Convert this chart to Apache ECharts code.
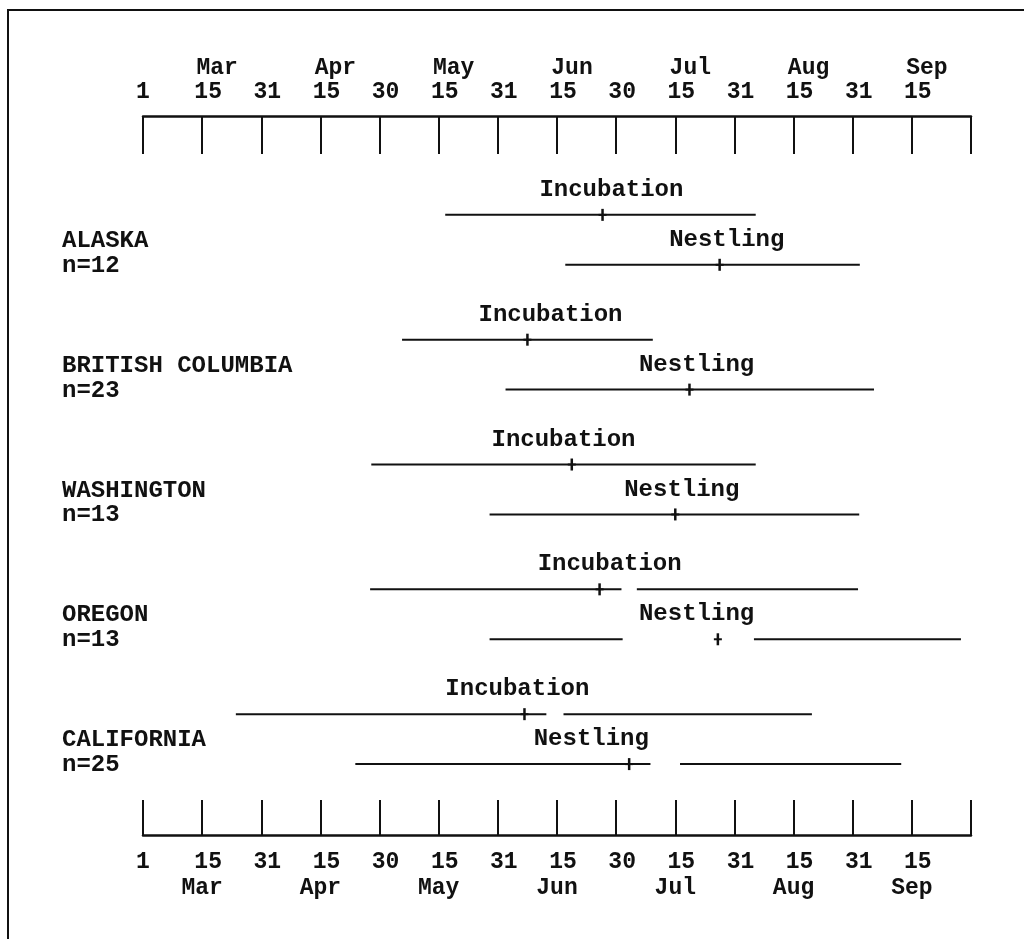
<!DOCTYPE html>
<html>
<head>
<meta charset="utf-8">
<script src="https://cdn.jsdelivr.net/npm/echarts@6/dist/echarts.min.js"></script>
<style>
html,body{margin:0;padding:0;background:#fff;}
#chart{width:1024px;height:939px;}
</style>
</head>
<body>
<div id="chart"></div>
<script>
// x values are in half-month steps counted from 1 Mar (0 = Mar 1, 1 = Mar 15, 2 = Mar 31, ...)
const tickNumbers = ['1','15','31','15','30','15','31','15','30','15','31','15','31','15',''];
const tickMonths  = ['','Mar','','Apr','','May','','Jun','','Jul','','Aug','','Sep',''];

const regions     = ['ALASKA','BRITISH COLUMBIA','WASHINGTON','OREGON','CALIFORNIA'];
const sampleSizes = [12, 23, 13, 13, 25];

// Incubation: range segments and mean date
const incubationSegments = [
  [[5.11, 10.36]],
  [[4.38, 8.62]],
  [[3.86, 10.36]],
  [[3.84, 8.09], [8.35, 12.09]],
  [[1.57, 6.82], [7.11, 11.31]]
];
const incubationMean = [7.77, 6.50, 7.25, 7.72, 6.45];

// Nestling: range segments and mean date
const nestlingSegments = [
  [[7.14, 12.12]],
  [[6.13, 12.36]],
  [[5.86, 12.11]],
  [[5.86, 8.11], [10.33, 13.83]],
  [[3.59, 8.58], [9.08, 12.82]]
];
const nestlingMean = [9.75, 9.24, 9.00, 9.72, 8.22];

// where each phase caption sits along the date axis
const incubationCaptionAt = [7.92, 6.89, 7.11, 7.89, 6.33];
const nestlingCaptionAt   = [9.87, 9.36, 9.11, 9.36, 7.58];

const FONT = '"Liberation Mono", "DejaVu Sans Mono", monospace';
const chart = echarts.init(document.getElementById('chart'), null, {renderer: 'canvas'});

function rowOf(regionIdx, phase) { return regionIdx * 2.5 + (phase === 'nest' ? 1 : 0); }

function makeRender(phase) {
  const segs = phase === 'nest' ? nestlingSegments : incubationSegments;
  const capAt = phase === 'nest' ? nestlingCaptionAt : incubationCaptionAt;
  const caption = phase === 'nest' ? 'Nestling' : 'Incubation';
  return function (params, api) {
    const i = params.dataIndex;
    const mean = api.value(0);
    const row = api.value(1);
    const children = [];
    segs[i].forEach(function (s) {
      const p1 = api.coord([s[0], row]);
      const p2 = api.coord([s[1], row]);
      children.push({type: 'line', shape: {x1: p1[0], y1: p1[1], x2: p2[0], y2: p2[1]},
        style: {stroke: '#111', lineWidth: 2}});
    });
    const m = api.coord([mean, row]);
    children.push({type: 'line', shape: {x1: m[0], y1: m[1] - 6, x2: m[0], y2: m[1] + 6},
      style: {stroke: '#111', lineWidth: 2.5}});
    children.push({type: 'line', shape: {x1: m[0] - 4, y1: m[1], x2: m[0] + 4, y2: m[1]},
      style: {stroke: '#111', lineWidth: 2}});
    const c = api.coord([capAt[i], row - 0.5]);
    children.push({type: 'text', style: {text: caption, x: c[0], y: c[1],
      align: 'center', verticalAlign: 'middle', fontFamily: FONT, fontSize: 24,
      fontWeight: 'bold', fill: '#111'}});
    if (phase === 'nest') {
      const a = api.coord([0, row - 0.5]);
      const b = api.coord([0, row]);
      children.push({type: 'text', style: {text: regions[i], x: a[0] - 81, y: a[1] + 1,
        align: 'left', verticalAlign: 'middle', fontFamily: FONT, fontSize: 24,
        fontWeight: 'bold', fill: '#111'}});
      children.push({type: 'text', style: {text: 'n=' + sampleSizes[i], x: b[0] - 81, y: b[1] + 1,
        align: 'left', verticalAlign: 'middle', fontFamily: FONT, fontSize: 24,
        fontWeight: 'bold', fill: '#111'}});
    }
    return {type: 'group', children: children};
  };
}

function labelIdx(v) { return Math.round(v); }

const richBase = {
  m:  {fontFamily: FONT, fontSize: 23, fontWeight: 'bold', color: '#111'},
  mt: {fontFamily: FONT, fontSize: 23, fontWeight: 'bold', color: '#111', padding: [0, 0, 0, 30]},
  n1: {fontFamily: FONT, fontSize: 23, fontWeight: 'bold', color: '#111'},
  n2: {fontFamily: FONT, fontSize: 23, fontWeight: 'bold', color: '#111', padding: [0, 0, 0, 12]}
};

const option = {
  backgroundColor: '#fff',
  animation: false,
  graphic: [{
    type: 'polyline',
    shape: {points: [[1024, 10], [8, 10], [8, 939]]},
    style: {stroke: '#111', lineWidth: 2, fill: null}
  }],
  grid: {left: 143, right: 53, top: 116, bottom: 104, containLabel: false},
  xAxis: [{
    type: 'value', position: 'top', min: 0, max: 14, interval: 1,
    axisLine: {show: true, onZero: false, lineStyle: {color: '#111', width: 2.5}},
    axisTick: {show: true, inside: true, length: 38, lineStyle: {color: '#111', width: 2}},
    splitLine: {show: false},
    axisLabel: {
      margin: 12, lineHeight: 24, fontFamily: FONT, fontSize: 23, fontWeight: 'bold', color: '#111',
      showMinLabel: true, showMaxLabel: true,
      formatter: function (v) {
        const i = labelIdx(v);
        const n = tickNumbers[i];
        if (!n) return '';
        const num = '{' + (n.length > 1 ? 'n2' : 'n1') + '|' + n + '}';
        return tickMonths[i] ? '{mt|' + tickMonths[i] + '}\n' + num : num;
      },
      rich: richBase
    }
  }, {
    type: 'value', position: 'bottom', min: 0, max: 14, interval: 1,
    axisLine: {show: true, onZero: false, lineStyle: {color: '#111', width: 2.5}},
    axisTick: {show: true, inside: true, length: 35, lineStyle: {color: '#111', width: 2}},
    splitLine: {show: false},
    axisLabel: {
      margin: 14, lineHeight: 26, fontFamily: FONT, fontSize: 23, fontWeight: 'bold', color: '#111',
      showMinLabel: true, showMaxLabel: true,
      formatter: function (v) {
        const i = labelIdx(v);
        const n = tickNumbers[i];
        if (!n) return '';
        const num = '{' + (n.length > 1 ? 'n2' : 'n1') + '|' + n + '}';
        return tickMonths[i] ? num + '\n{m|' + tickMonths[i] + '}' : num;
      },
      rich: richBase
    }
  }],
  yAxis: {type: 'value', show: false, min: -1.98, max: 12.42, inverse: true},
  series: [{
    type: 'custom', xAxisIndex: 0, yAxisIndex: 0, clip: false,
    renderItem: makeRender('inc'),
    data: incubationMean.map(function (v, i) { return [v, rowOf(i, 'inc')]; })
  }, {
    type: 'custom', xAxisIndex: 0, yAxisIndex: 0, clip: false,
    renderItem: makeRender('nest'),
    data: nestlingMean.map(function (v, i) { return [v, rowOf(i, 'nest')]; })
  }]
};
chart.setOption(option);
</script>
</body>
</html>
